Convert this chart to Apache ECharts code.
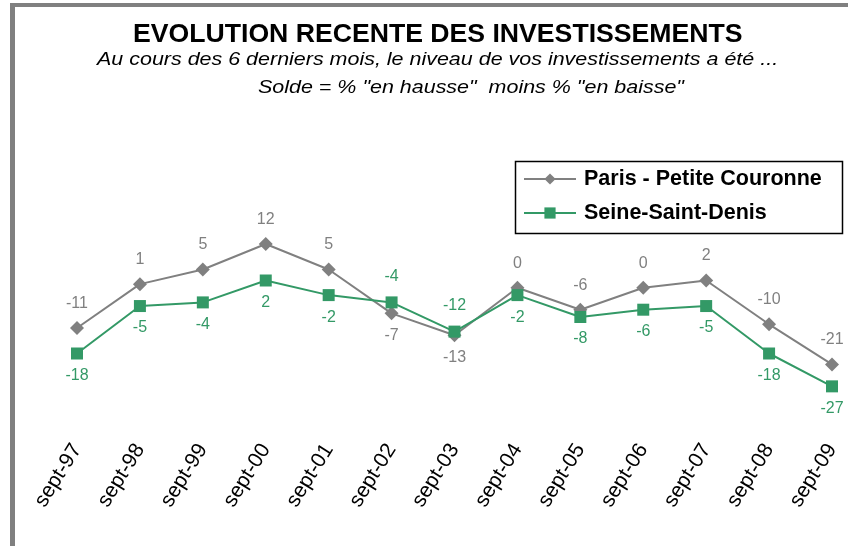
<!DOCTYPE html>
<html>
<head>
<meta charset="utf-8">
<script src="https://cdn.jsdelivr.net/npm/echarts@6/dist/echarts.min.js"></script>
<style>
html,body{margin:0;padding:0;background:#fff;}
#c{width:848px;height:546px;}
</style>
</head>
<body>
<div id="c"></div>
<script>
const categories = ['sept-97','sept-98','sept-99','sept-00','sept-01','sept-02','sept-03','sept-04','sept-05','sept-06','sept-07','sept-08','sept-09'];
const parisValues = [-11, 1, 5, 12, 5, -7, -13, 0, -6, 0, 2, -10, -21];
const ssdValues = [-18, -5, -4, 2, -2, -4, -12, -2, -8, -6, -5, -18, -27];
const seriesNames = ['Paris - Petite Couronne', 'Seine-Saint-Denis'];
const titleText = 'EVOLUTION RECENTE DES INVESTISSEMENTS';
const subtitleLine1 = 'Au cours des 6 derniers mois, le niveau de vos investissements a été ...';
const subtitleLine2 = 'Solde = % "en hausse"  moins % "en baisse"';

// label placement (style): Paris labels go below at these indices, SSD labels go above at these indices
const parisBelow = [5, 6];
const ssdAbove = [5, 6];

const FONT = 'Liberation Sans, Arial, sans-serif';
const GRAY = '#808080';
const GREEN = '#339966';

function buildData(vals, flipIdx, defPos, altPos, defDist, altDist) {
  return vals.map((v, i) => {
    const flip = flipIdx.indexOf(i) >= 0;
    return { value: v, label: { position: flip ? altPos : defPos, distance: flip ? altDist : defDist } };
  });
}

const chart = echarts.init(document.getElementById('c'), null, { renderer: 'canvas' });
chart.setOption({
  backgroundColor: '#fff',
  animation: false,
  graphic: [
    { type: 'rect', shape: { x: 10, y: 3, width: 838, height: 4 }, style: { fill: GRAY } },
    { type: 'rect', shape: { x: 10, y: 3, width: 5, height: 543 }, style: { fill: GRAY } },
    { type: 'text', x: 133, y: 35, scaleX: 1.065,
      style: { text: titleText, x: 0, y: 0, align: 'left', verticalAlign: 'middle', fontFamily: FONT, fontWeight: 'bold', fontSize: 25, fill: '#000' } },
    { type: 'text', x: 97, y: 60, scaleX: 1.16,
      style: { text: subtitleLine1, x: 0, y: 0, align: 'left', verticalAlign: 'middle', fontFamily: FONT, fontStyle: 'italic', fontSize: 18.5, fill: '#000' } },
    { type: 'text', x: 258, y: 87.5, scaleX: 1.16,
      style: { text: subtitleLine2, x: 0, y: 0, align: 'left', verticalAlign: 'middle', fontFamily: FONT, fontStyle: 'italic', fontSize: 18.5, fill: '#000' } },
    { type: 'rect', shape: { x: 515.5, y: 161.5, width: 327, height: 72 }, style: { fill: 'none', stroke: '#000', lineWidth: 1.5 } }
  ],
  legend: {
    orient: 'vertical',
    left: 523, top: 168,
    padding: 0,
    itemWidth: 52, itemHeight: 14, itemGap: 12,
    textStyle: { fontFamily: FONT, fontWeight: 'bold', fontSize: 21.5, color: '#000', padding: [0, 0, 0, 3] },
    data: seriesNames
  },
  grid: { left: 77, right: 16, top: 214.8, bottom: 546 - 433.8, containLabel: false },
  xAxis: {
    type: 'category', data: categories, boundaryGap: false,
    axisLine: { show: false }, axisTick: { show: false },
    axisLabel: { rotate: 58, fontFamily: FONT, fontSize: 21, color: '#000', margin: 12, interval: 0 }
  },
  yAxis: {
    type: 'value', min: -40, max: 20, show: false, splitLine: { show: false }
  },
  series: [
    {
      name: seriesNames[0], type: 'line', data: buildData(parisValues, parisBelow, 'top', 'bottom', 9.5, 7),
      symbol: 'diamond', symbolSize: 14, lineStyle: { color: GRAY, width: 2 }, itemStyle: { color: GRAY },
      label: { show: true, fontFamily: FONT, fontSize: 16, color: GRAY }
    },
    {
      name: seriesNames[1], type: 'line', data: buildData(ssdValues, ssdAbove, 'bottom', 'top', 8, 12),
      symbol: 'rect', symbolSize: 12, lineStyle: { color: GREEN, width: 2 }, itemStyle: { color: GREEN },
      label: { show: true, fontFamily: FONT, fontSize: 16, color: GREEN }
    }
  ]
});
</script>
</body>
</html>
